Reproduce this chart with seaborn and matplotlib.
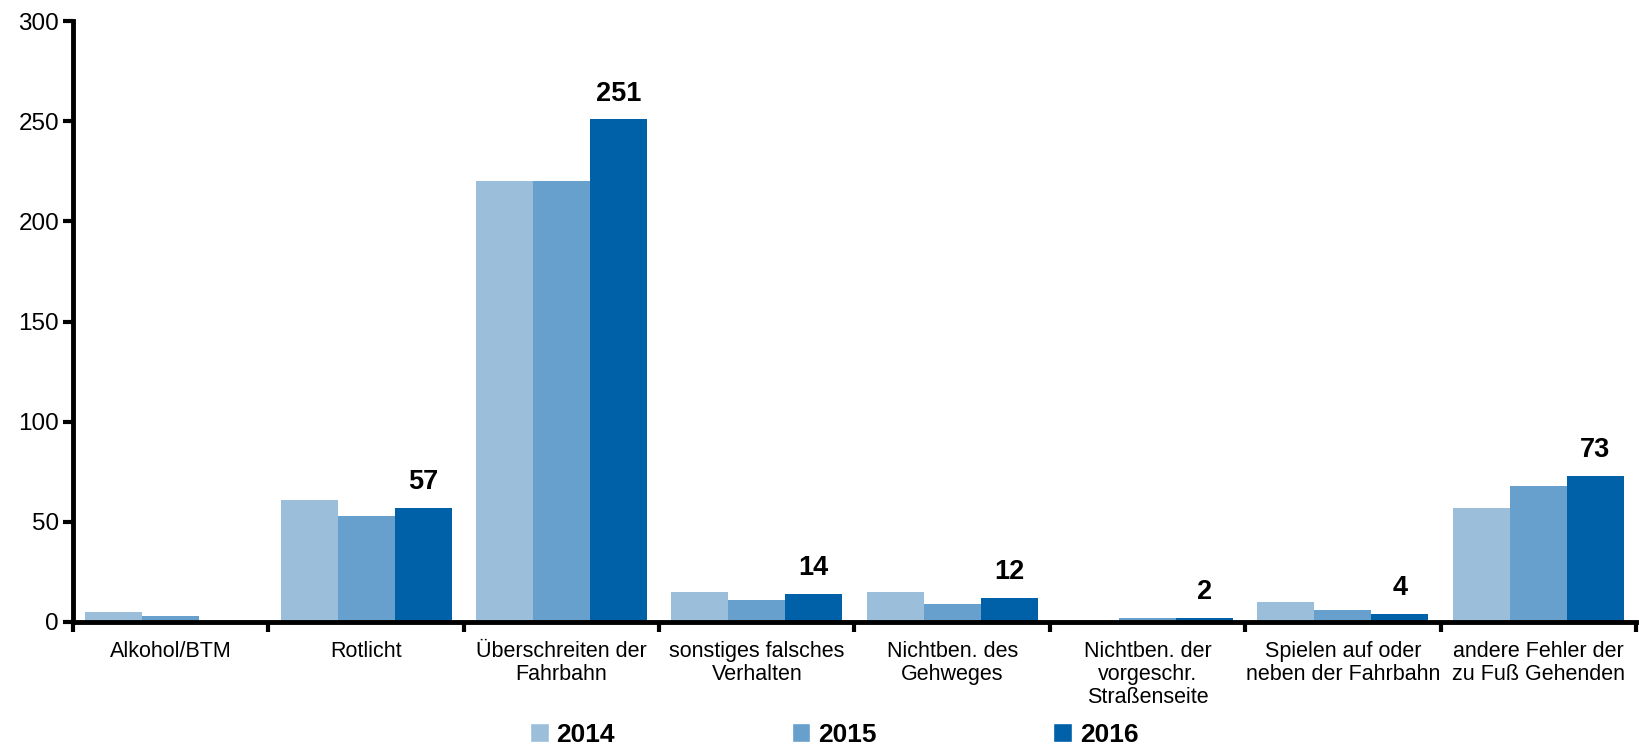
import matplotlib
matplotlib.use("Agg")
import matplotlib.pyplot as plt
import seaborn as sns
import pandas as pd
from matplotlib.patches import Patch

categories = ["Alkohol/BTM", "Rotlicht", "Überschreiten der\nFahrbahn",
              "sonstiges falsches\nVerhalten", "Nichtben. des\nGehweges",
              "Nichtben. der\nvorgeschr.\nStraßenseite",
              "Spielen auf oder\nneben der Fahrbahn",
              "andere Fehler der\nzu Fuß Gehenden"]
years = ["2014", "2015", "2016"]
v2014 = [5, 61, 220, 15, 15, 0, 10, 57]
v2015 = [3, 53, 220, 11, 9, 2, 6, 68]
v2016 = [0, 57, 251, 14, 12, 2, 4, 73]
colors = ["#9BBFDB", "#67A0CD", "#0061A8"]

rows = []
for y, vals in zip(years, [v2014, v2015, v2016]):
    for c, v in zip(categories, vals):
        rows.append({"cat": c, "year": y, "val": v})
df = pd.DataFrame(rows)

sns.set_theme(style="white")
plt.rcParams['font.family'] = ['Liberation Sans', 'DejaVu Sans']
plt.rcParams['text.color'] = 'black'
plt.rcParams['xtick.color'] = 'black'
plt.rcParams['ytick.color'] = 'black'

fig = plt.figure(figsize=(16.39, 7.5), dpi=100)
ax = fig.add_axes([73/1639, 1 - 622/750, (1636-73)/1639, (622-21)/750])
sns.barplot(data=df, x="cat", y="val", hue="year", order=categories,
            hue_order=years, palette=colors, width=0.875, saturation=1,
            ax=ax, legend=False, edgecolor="none")

ax.set_xlim(-0.5, 7.5)
ax.set_ylim(0, 300)
ax.set_yticks(range(0, 301, 50))
ax.set_xlabel("")
ax.set_ylabel("")
ax.set_xticks([i - 0.5 for i in range(9)], minor=False)
ax.set_xticklabels([])
ax.set_xticks(range(8), minor=True)
ax.set_xticklabels(categories, minor=True, fontsize=15.5, linespacing=1.1)
ax.tick_params(axis="x", which="major", bottom=True, direction="out", length=7, width=3, color="black")
ax.tick_params(axis="x", which="minor", bottom=True, length=0, pad=14, labelcolor="black")
ax.tick_params(axis="y", left=True, direction="out", length=7, width=3, color="black",
               labelsize=17.5, pad=3, labelcolor="black")
for s in ["top", "right"]:
    ax.spines[s].set_visible(False)
for s in ["left", "bottom"]:
    ax.spines[s].set_linewidth(3.5)
    ax.spines[s].set_color("black")

# labels on 2016 bars
cont = ax.containers[2]
labels = [str(v) if v > 0 else "" for v in v2016]
ax.bar_label(cont, labels=labels, padding=9, fontsize=19.5, fontweight="bold", color="black")

handles = [Patch(facecolor=c, label=y) for c, y in zip(colors, years)]
fig.legend(handles=handles, loc="lower center", bbox_to_anchor=(0.509, -0.027), ncol=3,
           frameon=False, prop={"weight": "bold", "size": 19}, handlelength=0.7,
           handleheight=0.7, handletextpad=0.3, columnspacing=6.7)

fig.savefig("out.png", dpi=100)
